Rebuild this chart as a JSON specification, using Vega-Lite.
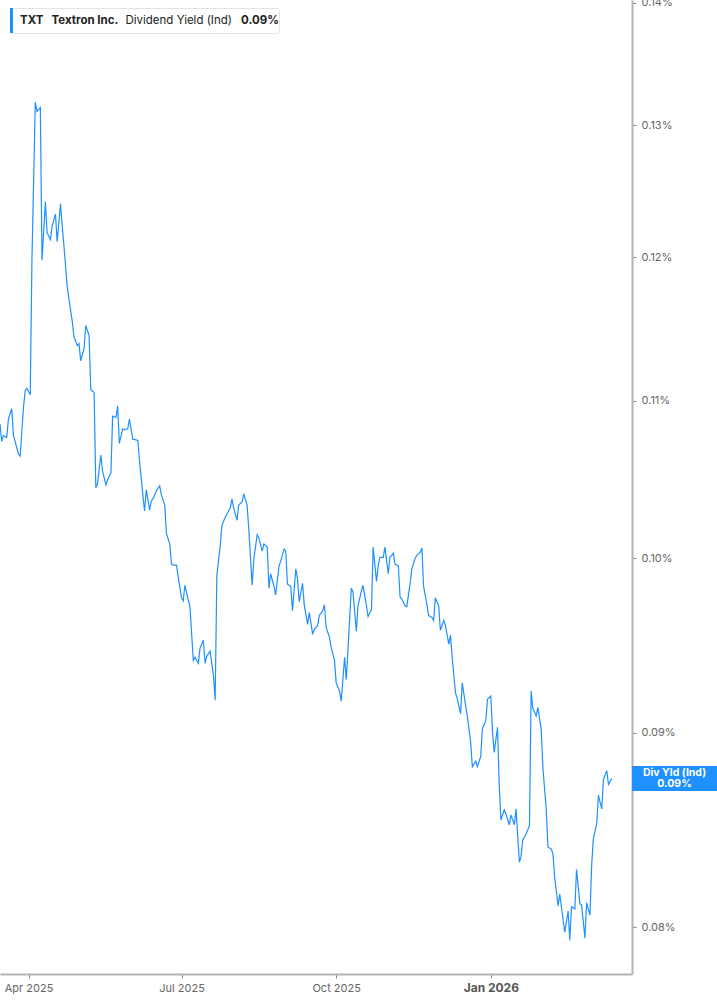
{
  "$schema": "https://vega.github.io/schema/vega-lite/v6.json",
  "width": 632,
  "height": 974,
  "autosize": {"type": "none"},
  "padding": {"left": 0, "top": 0, "right": 85, "bottom": 31},
  "background": "white",
  "config": {"view": {"stroke": null}, "font": "Inter"},
  "data": {"values": [
    {"date":"2025-03-15","yield":0.10848},{"date":"2025-03-16","yield":0.10734},{"date":"2025-03-17","yield":0.10772},{"date":"2025-03-19","yield":0.10759},{"date":"2025-03-20","yield":0.10880},{"date":"2025-03-22","yield":0.10949},{"date":"2025-03-23","yield":0.10772},{"date":"2025-03-24","yield":0.10734},{"date":"2025-03-26","yield":0.10652},{"date":"2025-03-27","yield":0.10639},
    {"date":"2025-03-29","yield":0.10962},{"date":"2025-03-30","yield":0.11070},{"date":"2025-03-31","yield":0.11084},{"date":"2025-04-02","yield":0.11042},{"date":"2025-04-03","yield":0.11979},{"date":"2025-04-05","yield":0.13180},{"date":"2025-04-06","yield":0.13107},{"date":"2025-04-07","yield":0.13123},{"date":"2025-04-08","yield":0.13139},{"date":"2025-04-09","yield":0.11979},
    {"date":"2025-04-11","yield":0.12409},{"date":"2025-04-12","yield":0.12181},{"date":"2025-04-14","yield":0.12128},{"date":"2025-04-15","yield":0.12227},{"date":"2025-04-17","yield":0.12318},{"date":"2025-04-18","yield":0.12113},{"date":"2025-04-20","yield":0.12394},{"date":"2025-04-21","yield":0.12227},{"date":"2025-04-22","yield":0.12090},{"date":"2025-04-24","yield":0.11785},
    {"date":"2025-04-25","yield":0.11702},{"date":"2025-04-27","yield":0.11542},{"date":"2025-04-28","yield":0.11438},{"date":"2025-04-30","yield":0.11375},{"date":"2025-05-01","yield":0.11389},{"date":"2025-05-02","yield":0.11271},{"date":"2025-05-04","yield":0.11355},{"date":"2025-05-05","yield":0.11514},{"date":"2025-05-07","yield":0.11445},{"date":"2025-05-08","yield":0.11077},
    {"date":"2025-05-10","yield":0.11056},{"date":"2025-05-11","yield":0.10437},{"date":"2025-05-12","yield":0.10462},{"date":"2025-05-14","yield":0.10646},{"date":"2025-05-15","yield":0.10544},{"date":"2025-05-17","yield":0.10456},{"date":"2025-05-18","yield":0.10487},{"date":"2025-05-20","yield":0.10532},{"date":"2025-05-21","yield":0.10899},{"date":"2025-05-23","yield":0.10892},
    {"date":"2025-05-24","yield":0.10968},{"date":"2025-05-25","yield":0.10721},{"date":"2025-05-27","yield":0.10816},{"date":"2025-05-28","yield":0.10810},{"date":"2025-05-30","yield":0.10816},{"date":"2025-05-31","yield":0.10880},{"date":"2025-06-02","yield":0.10747},{"date":"2025-06-03","yield":0.10747},{"date":"2025-06-05","yield":0.10740},{"date":"2025-06-06","yield":0.10608},
    {"date":"2025-06-08","yield":0.10392},{"date":"2025-06-09","yield":0.10291},{"date":"2025-06-10","yield":0.10424},{"date":"2025-06-12","yield":0.10297},{"date":"2025-06-13","yield":0.10354},{"date":"2025-06-14","yield":0.10367},{"date":"2025-06-16","yield":0.10418},{"date":"2025-06-18","yield":0.10449},{"date":"2025-06-19","yield":0.10392},{"date":"2025-06-21","yield":0.10329},
    {"date":"2025-06-22","yield":0.10152},{"date":"2025-06-24","yield":0.10088},{"date":"2025-06-25","yield":0.09966},{"date":"2025-06-26","yield":0.09960},{"date":"2025-06-28","yield":0.09960},{"date":"2025-06-29","yield":0.09891},{"date":"2025-07-01","yield":0.09764},{"date":"2025-07-02","yield":0.09747},{"date":"2025-07-03","yield":0.09839},{"date":"2025-07-05","yield":0.09753},
    {"date":"2025-07-06","yield":0.09712},{"date":"2025-07-08","yield":0.09402},{"date":"2025-07-09","yield":0.09419},{"date":"2025-07-11","yield":0.09385},{"date":"2025-07-12","yield":0.09471},{"date":"2025-07-14","yield":0.09517},{"date":"2025-07-15","yield":0.09385},{"date":"2025-07-16","yield":0.09425},{"date":"2025-07-18","yield":0.09454},{"date":"2025-07-20","yield":0.09316},
    {"date":"2025-07-21","yield":0.09178},{"date":"2025-07-22","yield":0.09896},{"date":"2025-07-24","yield":0.10076},{"date":"2025-07-25","yield":0.10202},{"date":"2025-07-27","yield":0.10253},{"date":"2025-07-28","yield":0.10272},{"date":"2025-07-30","yield":0.10310},{"date":"2025-07-31","yield":0.10367},{"date":"2025-08-01","yield":0.10310},{"date":"2025-08-03","yield":0.10234},
    {"date":"2025-08-04","yield":0.10329},{"date":"2025-08-06","yield":0.10348},{"date":"2025-08-07","yield":0.10399},{"date":"2025-08-09","yield":0.10329},{"date":"2025-08-10","yield":0.10183},{"date":"2025-08-12","yield":0.09839},{"date":"2025-08-13","yield":0.09994},{"date":"2025-08-15","yield":0.10145},{"date":"2025-08-16","yield":0.10126},{"date":"2025-08-18","yield":0.10044},
    {"date":"2025-08-19","yield":0.10088},{"date":"2025-08-21","yield":0.10069},{"date":"2025-08-22","yield":0.09822},{"date":"2025-08-23","yield":0.09908},{"date":"2025-08-25","yield":0.09833},{"date":"2025-08-26","yield":0.09781},{"date":"2025-08-28","yield":0.09954},{"date":"2025-08-29","yield":0.09983},{"date":"2025-08-31","yield":0.10057},{"date":"2025-09-01","yield":0.10044},
    {"date":"2025-09-02","yield":0.09845},{"date":"2025-09-04","yield":0.09833},{"date":"2025-09-05","yield":0.09689},{"date":"2025-09-07","yield":0.09937},{"date":"2025-09-08","yield":0.09879},{"date":"2025-09-09","yield":0.09741},{"date":"2025-09-11","yield":0.09850},{"date":"2025-09-12","yield":0.09724},{"date":"2025-09-14","yield":0.09609},{"date":"2025-09-15","yield":0.09678},
    {"date":"2025-09-17","yield":0.09551},{"date":"2025-09-18","yield":0.09580},{"date":"2025-09-20","yield":0.09603},{"date":"2025-09-21","yield":0.09661},{"date":"2025-09-23","yield":0.09689},{"date":"2025-09-24","yield":0.09724},{"date":"2025-09-25","yield":0.09592},{"date":"2025-09-27","yield":0.09534},{"date":"2025-09-28","yield":0.09477},{"date":"2025-09-30","yield":0.09402},
    {"date":"2025-10-01","yield":0.09275},{"date":"2025-10-03","yield":0.09229},{"date":"2025-10-04","yield":0.09172},{"date":"2025-10-06","yield":0.09419},{"date":"2025-10-07","yield":0.09293},{"date":"2025-10-08","yield":0.09459},{"date":"2025-10-10","yield":0.09822},{"date":"2025-10-11","yield":0.09799},{"date":"2025-10-13","yield":0.09569},{"date":"2025-10-14","yield":0.09718},
    {"date":"2025-10-16","yield":0.09804},{"date":"2025-10-17","yield":0.09839},{"date":"2025-10-19","yield":0.09718},{"date":"2025-10-20","yield":0.09655},{"date":"2025-10-22","yield":0.09695},{"date":"2025-10-23","yield":0.10069},{"date":"2025-10-25","yield":0.09862},{"date":"2025-10-26","yield":0.09954},{"date":"2025-10-27","yield":0.10006},{"date":"2025-10-29","yield":0.10006},
    {"date":"2025-10-30","yield":0.10069},{"date":"2025-11-01","yield":0.09908},{"date":"2025-11-02","yield":0.10006},{"date":"2025-11-04","yield":0.10032},{"date":"2025-11-05","yield":0.09966},{"date":"2025-11-07","yield":0.09954},{"date":"2025-11-08","yield":0.09770},{"date":"2025-11-09","yield":0.09758},{"date":"2025-11-11","yield":0.09718},{"date":"2025-11-12","yield":0.09712},
    {"date":"2025-11-14","yield":0.09850},{"date":"2025-11-15","yield":0.09937},{"date":"2025-11-17","yield":0.10000},{"date":"2025-11-18","yield":0.10019},{"date":"2025-11-20","yield":0.10038},{"date":"2025-11-21","yield":0.10063},{"date":"2025-11-22","yield":0.09833},{"date":"2025-11-24","yield":0.09724},{"date":"2025-11-25","yield":0.09661},{"date":"2025-11-27","yield":0.09649},
    {"date":"2025-11-28","yield":0.09632},{"date":"2025-11-29","yield":0.09764},{"date":"2025-12-01","yield":0.09718},{"date":"2025-12-02","yield":0.09574},{"date":"2025-12-04","yield":0.09632},{"date":"2025-12-05","yield":0.09603},{"date":"2025-12-07","yield":0.09494},{"date":"2025-12-08","yield":0.09546},{"date":"2025-12-09","yield":0.09419},{"date":"2025-12-11","yield":0.09218},
    {"date":"2025-12-12","yield":0.09189},{"date":"2025-12-14","yield":0.09103},{"date":"2025-12-15","yield":0.09275},{"date":"2025-12-17","yield":0.09149},{"date":"2025-12-18","yield":0.09091},{"date":"2025-12-20","yield":0.08949},{"date":"2025-12-21","yield":0.08815},{"date":"2025-12-23","yield":0.08845},{"date":"2025-12-24","yield":0.08815},{"date":"2025-12-26","yield":0.08871},
    {"date":"2025-12-27","yield":0.09022},{"date":"2025-12-29","yield":0.09063},{"date":"2025-12-30","yield":0.09183},{"date":"2026-01-01","yield":0.09201},{"date":"2026-01-02","yield":0.09005},{"date":"2026-01-03","yield":0.08892},{"date":"2026-01-05","yield":0.09028},{"date":"2026-01-06","yield":0.08722},{"date":"2026-01-07","yield":0.08536},{"date":"2026-01-09","yield":0.08588},
    {"date":"2026-01-10","yield":0.08567},{"date":"2026-01-12","yield":0.08511},{"date":"2026-01-13","yield":0.08562},{"date":"2026-01-15","yield":0.08511},{"date":"2026-01-16","yield":0.08593},{"date":"2026-01-18","yield":0.08320},{"date":"2026-01-19","yield":0.08351},{"date":"2026-01-20","yield":0.08433},{"date":"2026-01-22","yield":0.08464},{"date":"2026-01-24","yield":0.08506},
    {"date":"2026-01-25","yield":0.09229},{"date":"2026-01-26","yield":0.09132},{"date":"2026-01-28","yield":0.09091},{"date":"2026-01-29","yield":0.09137},{"date":"2026-01-31","yield":0.09017},{"date":"2026-02-01","yield":0.08809},{"date":"2026-02-03","yield":0.08588},{"date":"2026-02-04","yield":0.08397},{"date":"2026-02-06","yield":0.08387},{"date":"2026-02-07","yield":0.08361},
    {"date":"2026-02-08","yield":0.08243},{"date":"2026-02-10","yield":0.08104},{"date":"2026-02-11","yield":0.08161},{"date":"2026-02-13","yield":0.08037},{"date":"2026-02-14","yield":0.07976},{"date":"2026-02-16","yield":0.08078},{"date":"2026-02-17","yield":0.07937},{"date":"2026-02-18","yield":0.08099},{"date":"2026-02-20","yield":0.08088},{"date":"2026-02-21","yield":0.08284},
    {"date":"2026-02-23","yield":0.08114},{"date":"2026-02-24","yield":0.08109},{"date":"2026-02-26","yield":0.07947},{"date":"2026-02-27","yield":0.08119},{"date":"2026-03-01","yield":0.08058},{"date":"2026-03-02","yield":0.08305},{"date":"2026-03-03","yield":0.08439},{"date":"2026-03-05","yield":0.08516},{"date":"2026-03-06","yield":0.08665},{"date":"2026-03-08","yield":0.08593},
    {"date":"2026-03-09","yield":0.08748},{"date":"2026-03-11","yield":0.08794},{"date":"2026-03-12","yield":0.08722},{"date":"2026-03-14","yield":0.08753}
  ]},
  "encoding": {
    "x": {
      "field": "date", "type": "temporal",
      "scale": {"type": "utc", "domain": [{"year": 2025, "month": 3, "date": 15, "utc": true}, {"year": 2026, "month": 3, "date": 26, "utc": true}]},
      "axis": {
        "title": null, "grid": false,
        "values": [{"year": 2025, "month": 4, "date": 1, "utc": true}, {"year": 2025, "month": 7, "date": 1, "utc": true}, {"year": 2025, "month": 10, "date": 1, "utc": true}, {"year": 2026, "month": 1, "date": 1, "utc": true}],
        "labelExpr": "utcFormat(datum.value, '%b %Y')",
        "domainColor": "#b4b4b4", "domainWidth": 2,
        "tickColor": "#8a8a8a", "tickSize": 4, "tickWidth": 1,
        "labelFont": "Inter", "labelPadding": 4,
        "labelFontSize": {"condition": {"test": "utcmonth(datum.value) === 0", "value": 12}, "value": 11},
        "labelFontWeight": {"condition": {"test": "utcmonth(datum.value) === 0", "value": "bold"}, "value": "normal"},
        "labelColor": {"condition": {"test": "utcmonth(datum.value) === 0", "value": "#555555"}, "value": "#666666"}
      }
    },
    "y": {
      "field": "yield", "type": "quantitative",
      "scale": {"type": "log", "domain": [0.07776, 0.14022], "nice": false, "zero": false},
      "axis": {
        "orient": "right", "title": null, "grid": false,
        "values": [0.08, 0.09, 0.10, 0.11, 0.12, 0.13, 0.14],
        "labelExpr": "format(datum.value, '.2f') + '%'",
        "domainColor": "#b4b4b4", "domainWidth": 2,
        "tickColor": "#8a8a8a", "tickSize": 4, "tickWidth": 1,
        "labelFont": "Inter", "labelFontSize": 11, "labelColor": "#666666", "labelPadding": 5
      }
    }
  },
  "layer": [
    {
      "mark": {"type": "line", "strokeWidth": 1.2, "interpolate": "linear"},
      "encoding": {
        "color": {
          "datum": "TXT", "type": "nominal",
          "scale": {"range": ["#1e90ff"]},
          "legend": {
            "orient": "none", "legendX": 10, "legendY": 8,
            "direction": "horizontal",
            "title": "0.09%\u00a0\u00a0",
            "titleOrient": "right", "titlePadding": 123,
            "titleFont": "Inter", "titleFontSize": 11.5, "titleFontWeight": "bold", "titleColor": "#222222",
            "titleBaseline": "middle", "titleAnchor": "middle",
            "labelExpr": "'TXT\u00a0\u00a0 Textron Inc.'",
            "labelFont": "Inter", "labelFontSize": 11.5, "labelFontWeight": "bold", "labelColor": "#222222",
            "labelOffset": -15,
            "symbolType": "M-1,-1H-0.76V1H-1Z", "symbolSize": 625, "symbolStrokeWidth": 0,
            "padding": 0, "fillColor": "white", "strokeColor": "#e3e3e3", "cornerRadius": 3,
            "encode": {"symbols": {"update": {"fill": {"value": "#1e90ff"}, "stroke": {"value": "transparent"}, "strokeWidth": {"value": 0}}}}
          }
        },
        "strokeDash": {
          "datum": "Dividend Yield (Ind)", "type": "nominal",
          "scale": {"range": [[1, 0]]},
          "legend": {
            "orient": "none", "legendX": 114, "legendY": 15,
            "title": null,
            "labelFont": "Inter", "labelFontSize": 11.5, "labelFontWeight": "normal", "labelColor": "#222222",
            "labelOffset": 0,
            "symbolOpacity": 0, "symbolSize": 1, "symbolStrokeWidth": 0,
            "padding": 0
          }
        }
      }
    },
    {
      "transform": [
        {"window": [{"op": "row_number", "as": "rn"}], "sort": [{"field": "date", "order": "descending"}]},
        {"filter": "datum.rn === 1"}
      ],
      "mark": {"type": "tick", "orient": "horizontal", "size": 85, "thickness": 25, "xOffset": 62.7, "color": "#1e90ff", "opacity": 1}
    },
    {
      "transform": [
        {"window": [{"op": "row_number", "as": "rn"}], "sort": [{"field": "date", "order": "descending"}]},
        {"filter": "datum.rn === 1"}
      ],
      "mark": {"type": "text", "text": "Div Yld (Ind)", "font": "Inter", "fontSize": 10.5, "fontWeight": "bold", "color": "white", "xOffset": 62.7, "dy": -5.4, "align": "center", "baseline": "middle"}
    },
    {
      "transform": [
        {"window": [{"op": "row_number", "as": "rn"}], "sort": [{"field": "date", "order": "descending"}]},
        {"filter": "datum.rn === 1"},
        {"calculate": "format(datum.yield, '.2f') + '%'", "as": "lbl"}
      ],
      "mark": {"type": "text", "font": "Inter", "fontSize": 10.5, "fontWeight": "bold", "color": "white", "xOffset": 62.7, "dy": 5.4, "align": "center", "baseline": "middle"},
      "encoding": {"text": {"field": "lbl"}}
    }
  ]
}
